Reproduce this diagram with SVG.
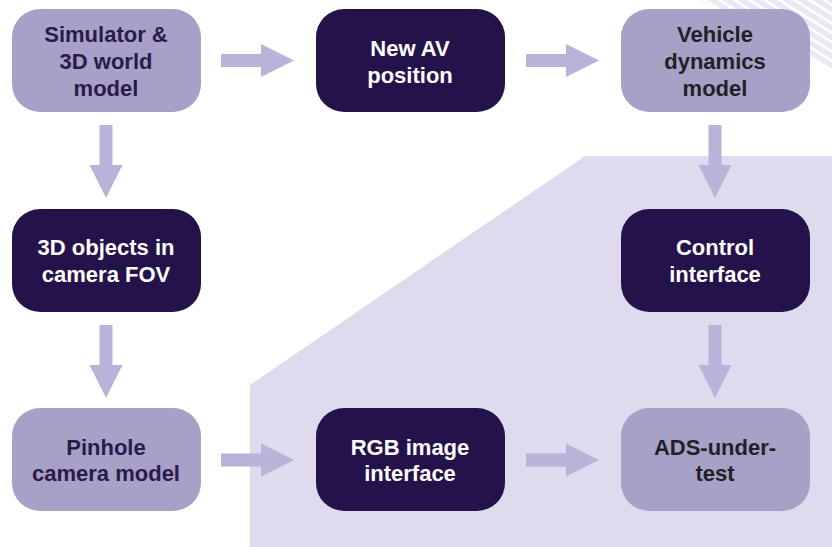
<svg xmlns="http://www.w3.org/2000/svg" width="832" height="547" viewBox="0 0 832 547">
<defs>
<style>
.light{fill:#a7a0c7}
.dark{fill:#24134a}
.arrow{fill:#b9b2d9}
.t{font-family:"Liberation Sans",Arial,sans-serif;font-weight:bold;font-size:22px;text-anchor:middle}
.tl{fill:#2a1a4c}
.tk{fill:#231f26}
.tw{fill:#ffffff}
.stripe{fill:#ebe8f3}
</style>
<clipPath id="corner"><polygon points="700,0 832,0 832,70"/></clipPath>
<path id="ah" d="M0,-6.5 H40 V-16.5 L73,0 L40,16.5 V6.5 H0 Z"/>
</defs>
<rect width="832" height="547" fill="#ffffff"/>
<polygon points="250,385 585,156 832,156 832,547 250,547" fill="#dedbee"/>
<g clip-path="url(#corner)">
<polygon class="stripe" points="690,-20 700,-20 860,80 850,80"/>
<polygon class="stripe" points="705,-20 715,-20 875,80 865,80"/>
<polygon class="stripe" points="720,-20 730,-20 890,80 880,80"/>
<polygon class="stripe" points="735,-20 745,-20 905,80 895,80"/>
<polygon class="stripe" points="750,-20 760,-20 920,80 910,80"/>
<polygon class="stripe" points="765,-20 775,-20 935,80 925,80"/>
<polygon class="stripe" points="780,-20 790,-20 950,80 940,80"/>
<polygon class="stripe" points="795,-20 805,-20 965,80 955,80"/>
<polygon class="stripe" points="810,-20 820,-20 980,80 970,80"/>
<polygon class="stripe" points="825,-20 835,-20 995,80 985,80"/>
<polygon class="stripe" points="675,-20 685,-20 845,80 835,80"/>
<polygon class="stripe" points="660,-20 670,-20 830,80 820,80"/>
</g>
<g id="connectors">
<use href="#ah" class="arrow" transform="translate(221,60.5)"/>
<use href="#ah" class="arrow" transform="translate(526,60.5)"/>
<use href="#ah" class="arrow" transform="translate(221,460)"/>
<use href="#ah" class="arrow" transform="translate(526,460)"/>
<use href="#ah" class="arrow" transform="translate(106,125) rotate(90)"/>
<use href="#ah" class="arrow" transform="translate(106,325) rotate(90)"/>
<use href="#ah" class="arrow" transform="translate(715,125) rotate(90)"/>
<use href="#ah" class="arrow" transform="translate(715,325) rotate(90)"/>
</g>
<g id="simulator">
<rect class="light" x="12" y="9" width="189" height="103" rx="28"/>
<text class="t tl" x="106" y="42">Simulator &amp;</text>
<text class="t tl" x="106" y="69">3D world</text>
<text class="t tl" x="106" y="96">model</text>
</g>
<g id="new-av-position">
<rect class="dark" x="316" y="9" width="189" height="103" rx="28"/>
<text class="t tw" x="410" y="56">New AV</text>
<text class="t tw" x="410" y="83">position</text>
</g>
<g id="vehicle-dynamics">
<rect class="light" x="621" y="9" width="189" height="103" rx="28"/>
<text class="t tk" x="715" y="42">Vehicle</text>
<text class="t tk" x="715" y="69">dynamics</text>
<text class="t tk" x="715" y="96">model</text>
</g>
<g id="objects-fov">
<rect class="dark" x="12" y="209" width="189" height="103" rx="28"/>
<text class="t tw" x="106" y="255">3D objects in</text>
<text class="t tw" x="106" y="282">camera FOV</text>
</g>
<g id="control-interface">
<rect class="dark" x="621" y="209" width="189" height="103" rx="28"/>
<text class="t tw" x="715" y="255">Control</text>
<text class="t tw" x="715" y="282">interface</text>
</g>
<g id="pinhole">
<rect class="light" x="12" y="408" width="189" height="103" rx="28"/>
<text class="t tl" x="106" y="455">Pinhole</text>
<text class="t tl" x="106" y="481">camera model</text>
</g>
<g id="rgb-interface">
<rect class="dark" x="316" y="408" width="189" height="103" rx="28"/>
<text class="t tw" x="410" y="455">RGB image</text>
<text class="t tw" x="410" y="481">interface</text>
</g>
<g id="ads">
<rect class="light" x="621" y="408" width="189" height="103" rx="28"/>
<text class="t tk" x="715" y="455">ADS-under-</text>
<text class="t tk" x="715" y="481">test</text>
</g>
</svg>
